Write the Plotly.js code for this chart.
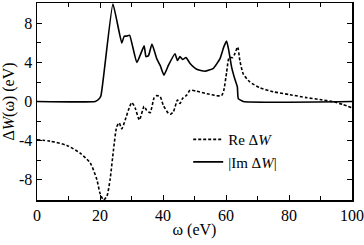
<!DOCTYPE html>
<html><head><meta charset="utf-8">
<script src="https://cdn.plot.ly/plotly-3.0.1.min.js"></script>
<style>html,body{margin:0;padding:0;background:#fff}#c{width:364px;height:245px}</style>
</head><body><div id="c"></div>
<script>
const reX = [0,4.2,9.5,13.7,16.9,19,20,21.1,22.2,23.2,24.3,25.3,26.1,26.9,28,29,30.1,31.2,32.5,34,34.8,35.9,37.2,38,39.1,40.1,41.7,42.4,43.3,44.6,45.4,46.2,47.5,48.6,50.7,53.9,57,58.6,59.3,60.2,61,62.1,62.8,63.7,64.4,65.5,67.6,70.8,75,80.3,85.5,89.8,94,97.1,100];
const reY = [-3.93,-4.07,-4.5,-5.3,-6.3,-8.0,-9.4,-10.1,-9.7,-8.0,-4.9,-2.6,-2.2,-2.8,-1.9,-0.9,-0.1,-0.7,-1.9,-0.5,-0.9,-1.15,0.4,0.6,0.5,-0.4,-1.2,-1.3,-1.05,0.15,-0.2,0.3,0.65,1.15,1.05,0.8,0.6,0.6,1.15,3.0,4.5,4.5,4.9,5.6,4.2,2.8,2.0,1.4,1.0,0.7,0.4,0.2,-0.03,-0.3,-0.65];
const imX = [0,18.5,19.5,20.3,24.1,26.9,27.7,28.5,29.4,31.7,34.0,34.6,35.4,36.5,38,39.1,40.3,41.7,43.8,44.6,45.4,46.2,47.3,48.6,50.7,53.3,56,58.1,59.3,60.2,60.9,61.8,62.8,63.6,63.9,65.5,100];
const imY = [0,0,0.2,0.6,10,6.0,6.7,6.7,6.8,4.0,5.7,4.6,4.7,5.9,4.4,3.7,2.7,3.7,4.9,4.2,4.6,4.3,4.5,3.9,3.3,3.1,3.4,4.4,5.6,6.2,5.2,3.5,2.3,1.5,0.3,0,0];
const xTicks = [0,20,40,60,80,100];
const yTicks = [-8,-4,0,4,8];
const yTickText = ['-8','-4','0','4','8'];

const F = "'Liberation Serif', 'Times New Roman', serif";
const data = [
  {x: reX, y: reY, mode:'lines', name:'Re Δ<i>W</i>', line:{color:'#000', width:1.6, dash:'3px,2px', shape:'spline', smoothing:0.6}},
  {x: imX, y: imY, mode:'lines', name:'|Im Δ<i>W</i>|', line:{color:'#000', width:1.6, shape:'spline', smoothing:0.4}}
];
const axisCommon = {showgrid:false, zeroline:false, showline:true, linecolor:'#000', linewidth:1.5, mirror:'ticks', ticks:'inside', ticklen:5, tickwidth:1, tickcolor:'#000', tickfont:{family:F, size:16, color:'#000'}};
const layout = {
  width:364, height:245, margin:{l:37, r:12, t:3, b:45},
  paper_bgcolor:'#fff', plot_bgcolor:'#fff',
  font:{family:F, color:'#000'},
  showlegend:true,
  legend:{x:0.48, y:0.39, xanchor:'left', yanchor:'top', bgcolor:'rgba(0,0,0,0)', font:{family:F, size:15, color:'#000'}, tracegroupgap:0},
  xaxis: Object.assign({}, axisCommon, {range:[0,100], tickvals:xTicks, ticktext:xTicks.map(String), minor:{dtick:10, ticks:'inside', ticklen:4, tickcolor:'#000'}, title:{text:'ω (eV)', font:{family:F, size:16, color:'#000'}, standoff:1}}),
  yaxis: Object.assign({}, axisCommon, {range:[-10.1,10.1], tickvals:yTicks, ticktext:yTickText, minor:{dtick:2, ticks:'inside', ticklen:4, tickcolor:'#000'}, title:{text:'Δ<i>W</i>(ω) (eV)', font:{family:F, size:16, color:'#000'}, standoff:1}})
};
Plotly.newPlot('c', data, layout, {staticPlot:true, displayModeBar:false});
</script></body></html>
